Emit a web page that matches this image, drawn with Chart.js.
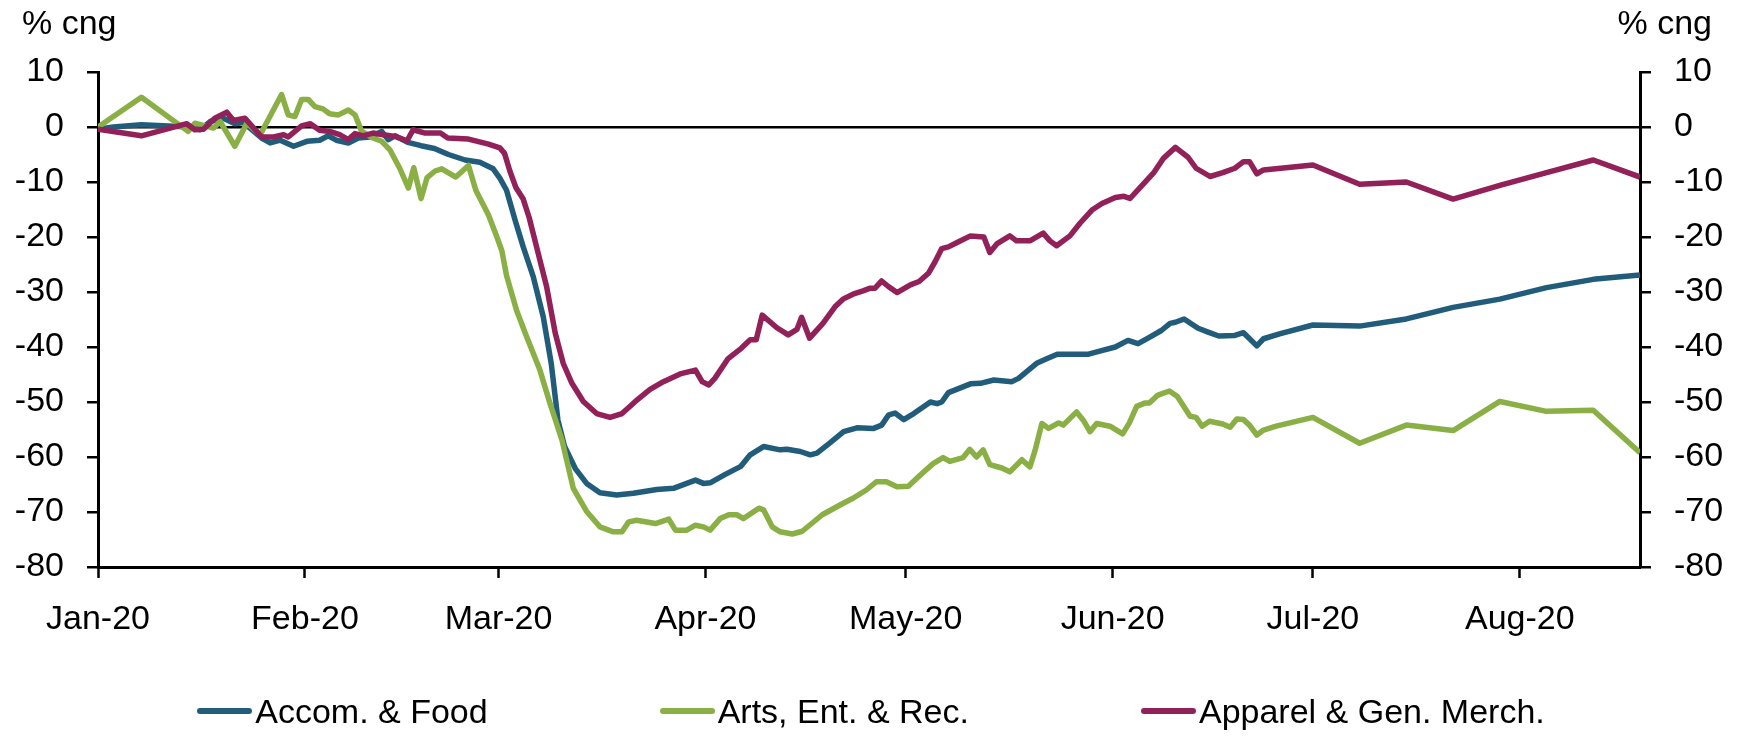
<!DOCTYPE html>
<html>
<head>
<meta charset="utf-8">
<script src="https://cdn.jsdelivr.net/npm/chart.js@4.4.1/dist/chart.umd.min.js"></script>
<style>
  html, body { margin: 0; padding: 0; background: #fff; }
  #wrap { position: relative; width: 1742px; height: 736px; font-family: "Liberation Sans", Arial, sans-serif; color: #000; }
  #chart { position: absolute; left: 0; top: 0; }
  .unit { position: absolute; top: 2px; font-size: 34px; line-height: 40px; }
  #legend { position: absolute; left: 0; top: 690px; width: 1742px; display: flex; justify-content: center; font-size: 34px; line-height: 42px; }
  #legend .item { display: flex; align-items: center; margin: 0 86px; }
  #legend .swatch { width: 55px; height: 6px; border-radius: 3px; margin-right: 3px; }
</style>
</head>
<body>
<div id="wrap">
  <canvas id="chart" width="1742" height="736"></canvas>
  <div class="unit" style="left:22px">% cng</div>
  <div class="unit" style="right:30px">% cng</div>
  <div id="legend"></div>
</div>
<script>
// x values are days since 1 Jan 2020
const monthDays = [0, 31, 60, 91, 121, 152, 182, 213];
const monthLabels = ["Jan-20", "Feb-20", "Mar-20", "Apr-20", "May-20", "Jun-20", "Jul-20", "Aug-20"];
const seriesNames = ["Accom. & Food", "Arts, Ent. & Rec.", "Apparel & Gen. Merch."];
const seriesColors = ["#215d7b", "#8aaf45", "#922159"];

const accomDays = [0, 2.3, 6.5, 13.8, 15.3, 16.8, 18.8, 20.5, 21.8, 24.5, 25.8, 27.3, 29.3, 31.3, 33.2, 34.5, 35.7, 37.5, 39, 40.7,
  42.5, 43.5, 44.5, 46.4, 48.4, 50.4, 52.5, 55, 57.2, 59.2, 60.2, 61.2, 62.5, 63.7, 65.2, 66.7, 67.9, 68.9, 69.9, 71.5,
  73.2, 75.2, 77.7, 80.2, 83.7, 86.2, 89.5, 90.7, 91.7, 93.9, 96.3, 97.7, 99.7, 102.2, 103.2, 105.2, 106.7, 107.7, 109.7, 111.7,
  113.7, 116.2, 117.4, 118.4, 119.4, 120.7, 122.2, 124.7, 125.7, 126.4, 127.4, 130.7, 132.2, 134.2, 136.9, 137.9, 140.7, 142.2, 143.7, 148.4,
  150.2, 152.4, 154.3, 155.8, 157.3, 159.3, 160.6, 161.4, 162.7, 164.8, 166.3, 167.9, 170.3, 171.6, 173.6, 174.6, 177,
  182, 189, 196, 203, 210, 217, 224, 231];
const accomPct = [-0.4, 0, 0.4, 0, -0.5, 1.0, 1.6, 0.6, 0.8, -2.0, -2.9, -2.4, -3.5, -2.6, -2.4, -1.6, -2.4, -2.9, -2.0, -1.8,
  -0.8, -2.3, -1.6, -2.8, -3.4, -3.9, -5.0, -6.0, -6.4, -7.6, -9.3, -11.5, -17, -21.8, -27.2, -34.5, -43.0, -53.3, -58.1, -62.1,
  -64.8, -66.5, -66.9, -66.6, -65.9, -65.7, -64.2, -64.8, -64.7, -63.2, -61.7, -59.6, -58.1, -58.7, -58.6, -59.0, -59.6, -59.3, -57.4, -55.4,
  -54.7, -54.8, -54.2, -52.4, -52.0, -53.2, -52.1, -50.0, -50.3, -50.0, -48.3, -46.7, -46.6, -46.0, -46.3, -45.7, -42.9, -42.1, -41.3, -41.3,
  -40.7, -40.0, -38.8, -39.4, -38.4, -37.0, -35.7, -35.5, -34.9, -36.6, -37.3, -38.0, -37.9, -37.4, -39.8, -38.5, -37.6,
  -36.0, -36.2, -34.9, -32.8, -31.3, -29.2, -27.7, -26.9];

const artsDays = [0, 6.5, 13.5, 14.5, 17.3, 18.3, 20.5, 22.3, 24.3, 27.5, 28.5, 29.5, 30.5, 31.5, 32.5, 33.7, 34.7, 36, 37.5, 38.5,
  39.5, 41.2, 42.5, 43.7, 45.2, 46.5, 47.3, 48.4, 49.3, 50.5, 51.5, 53.6, 55.5, 56.6, 58.5, 59.7, 60.5, 61.2, 62.7, 64.2,
  66.2, 67.7, 69.5, 71.2, 73.2, 75.2, 77.2, 78.5, 79.5, 80.7, 83.5, 85.5, 86.5, 88.2, 89.5, 90.7, 91.7, 93.2, 94.5, 95.7,
  96.7, 99, 99.7, 101, 102.2, 104, 105.5, 107, 108.5, 110, 111.5, 113.1, 115.1, 116.6, 118.1, 119.7, 121.4, 122.9, 125.1, 126.6,
  127.6, 129.6, 130.6, 131.6, 132.6, 133.6, 135.4, 136.6, 138.4, 139.6, 140.4, 141.4, 142.4, 143.9, 144.6, 146.6, 147.6, 148.6, 149.6, 151.6,
  153.5, 154.5, 155.6, 156.8, 157.5, 158.7, 160.5, 161.7, 163.6, 164.5, 165.4, 166.5, 168.5, 169.6, 170.6, 171.6, 172.5, 173.6, 174.6, 176.5,
  182, 189, 196, 203, 210, 217, 224, 231];
const artsPct = [0, 5.4, -0.8, 0.7, -0.2, 1.0, -3.5, 0.7, -1.4, 5.9, 2.2, 1.9, 5.0, 5.0, 3.7, 3.3, 2.4, 2.2, 3.1, 2.2,
  -0.8, -2.0, -2.6, -4.1, -7.5, -11.1, -7.4, -13.0, -9.2, -8.0, -7.6, -9.1, -7.0, -11.5, -16, -19.8, -22.5, -27, -33.3, -38.1,
  -44.2, -50.2, -56.9, -65.7, -69.9, -72.7, -73.6, -73.6, -71.8, -71.5, -72.1, -71.3, -73.3, -73.3, -72.4, -72.7, -73.3, -71.2, -70.5, -70.5,
  -71.2, -69.3, -69.6, -72.7, -73.6, -74.0, -73.5, -72.0, -70.5, -69.5, -68.5, -67.5, -66.0, -64.5, -64.5, -65.4, -65.3, -63.6, -61.2, -60.1,
  -60.8, -60.1, -58.6, -60.0, -58.7, -61.4, -62.0, -62.7, -60.5, -61.8, -58.7, -53.9, -54.8, -53.8, -54.2, -51.8, -53.3, -55.4, -53.9, -54.4,
  -55.8, -53.8, -50.8, -50.2, -50.2, -48.8, -48.0, -49.0, -52.6, -52.8, -54.4, -53.5, -54.0, -54.6, -53.1, -53.2, -54.2, -56.0, -55.1, -54.4,
  -52.8, -57.5, -54.2, -55.2, -49.9, -51.7, -51.5, -59.2];

const apparelDays = [0, 6.5, 13.3, 14.5, 15.8, 17.5, 19.3, 20.3, 22, 24.5, 26.3, 27.8, 28.5, 30.5, 31.8, 33.2, 34.7, 36.2, 37.5, 38.5,
  39.7, 41.2, 42.7, 44.5, 46.3, 47.2, 49, 51.3, 52.4, 55.5, 58.5, 60.2, 60.9, 61.7, 62.6, 63.7, 64.6, 65.7, 67.2, 68.5,
  69.7, 71, 72.7, 74.7, 76.7, 78.5, 80.5, 82.7, 84.7, 87.2, 89.5, 90.5, 91.5, 92.4, 94.4, 96.4, 97.7, 98.6, 99.5, 101.7,
  103.4, 104.7, 105.4, 106.6, 108.6, 110.4, 111.6, 113.1, 114.6, 115.7, 116.4, 117.4, 118.4, 119.7, 121.7, 123, 124.4, 125.4, 126.4, 127.4,
  128.7, 130.7, 132.7, 133.6, 134.7, 136.6, 137.6, 139.6, 141.6, 142.6, 143.6, 145.6, 147.1, 148.9, 150.4, 152.4, 153.7, 154.6, 156.2, 158.1,
  159.6, 161.4, 163.3, 164.5, 166.6, 168.5, 170.3, 171.6, 172.5, 173.6, 174.6,
  182, 189, 196, 203, 210, 217, 224, 231];
const apparelPct = [-0.4, -1.6, 0.6, -0.5, -0.4, 1.6, 2.7, 1.2, 1.6, -1.8, -1.8, -1.4, -1.8, 0.2, 0.6, -0.6, -0.8, -1.4, -2.3, -1.2,
  -1.6, -1.1, -1.4, -1.7, -2.5, -0.5, -1.1, -1.1, -2.0, -2.2, -3.1, -3.8, -4.8, -8.0, -11.0, -13.1, -16.5, -21.8, -29.0, -37.5,
  -43.0, -46.6, -49.9, -52.1, -52.8, -52.1, -49.9, -47.7, -46.3, -44.9, -44.2, -46.3, -46.9, -45.7, -42.1, -40.2, -38.7, -38.7, -34.2, -36.5,
  -37.8, -36.8, -34.6, -38.4, -35.7, -32.7, -31.3, -30.4, -29.8, -29.3, -29.3, -28.0, -29.0, -30.1, -28.7, -28.1, -26.6, -24.5, -22.1, -21.8,
  -21.0, -19.8, -20.0, -22.8, -21.2, -19.8, -20.7, -20.7, -19.3, -20.7, -21.6, -19.8, -17.5, -15.1, -13.9, -12.8, -12.6, -13.0, -10.9, -8.4,
  -5.7, -3.7, -5.5, -7.5, -9.0, -8.3, -7.5, -6.3, -6.3, -8.5, -7.8,
  -6.9, -10.4, -10.0, -13.1, -10.6, -8.3, -6.0, -9.1];

const yTicks = [10, 0, -10, -20, -30, -40, -50, -60, -70, -80];

Chart.defaults.font.family = '"Liberation Sans", Arial, sans-serif';
Chart.defaults.font.size = 34;
Chart.defaults.color = "#000";

function points(days, vals) {
  return days.map((d, i) => ({ x: d, y: vals[i] }));
}

const allDays = [accomDays, artsDays, apparelDays];
const allVals = [accomPct, artsPct, apparelPct];

const datasets = seriesNames.map((name, i) => ({
  label: name,
  data: points(allDays[i], allVals[i]),
  borderColor: seriesColors[i],
  backgroundColor: seriesColors[i],
  borderWidth: 5.5,
  pointRadius: 0,
  tension: 0,
  borderJoinStyle: "round",
  order: 3 - i
}));

const yAxis = (pos, width) => ({
  position: pos,
  min: -80,
  max: 10,
  afterBuildTicks: s => { s.ticks = yTicks.map(v => ({ value: v })); },
  afterFit: s => { s.width = width; },
  ticks: { padding: 23, callback: v => String(v) },
  border: { color: "#000", width: 3 },
  grid: {
    drawOnChartArea: pos === "left",
    color: c => (c.tick && c.tick.value === 0 ? "#000" : "rgba(0,0,0,0)"),
    lineWidth: 2.5,
    tickColor: "#000",
    tickWidth: 2.5,
    tickLength: 11
  }
});

new Chart(document.getElementById("chart"), {
  type: "line",
  data: { datasets },
  options: {
    responsive: false,
    animation: false,
    layout: { padding: { top: 72, left: 0, right: 0, bottom: 0 } },
    plugins: { legend: { display: false }, tooltip: { enabled: false } },
    scales: {
      x: {
        type: "linear",
        min: 0,
        max: 231,
        afterBuildTicks: s => { s.ticks = monthDays.map(v => ({ value: v })); },
        afterFit: s => { s.height = 169; },
        ticks: {
          autoSkip: false,
          maxRotation: 0,
          padding: 21,
          callback: v => monthLabels[monthDays.indexOf(v)]
        },
        border: { color: "#000", width: 3 },
        grid: { drawOnChartArea: false, tickColor: "#000", tickWidth: 2.5, tickLength: 11 }
      },
      y: yAxis("left", 98),
      y2: yAxis("right", 102)
    }
  }
});

// Legend
const legend = document.getElementById("legend");
seriesNames.forEach((name, i) => {
  const item = document.createElement("div");
  item.className = "item";
  item.innerHTML = `<span class="swatch" style="background:${seriesColors[i]}"></span><span>${name}</span>`;
  legend.appendChild(item);
});
</script>
</body>
</html>
